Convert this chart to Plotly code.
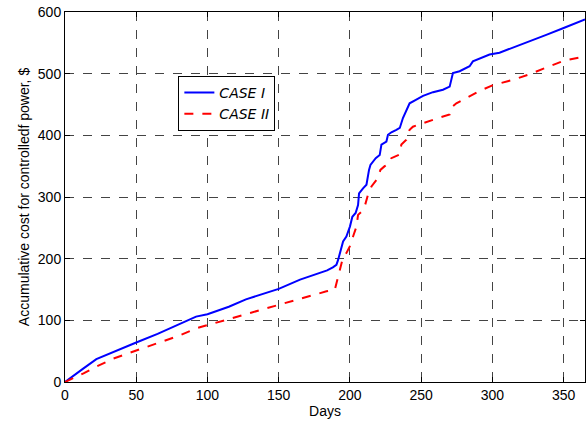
import plotly.graph_objects as go

# Accumulated cost of controlled power over one year (days), two cases
days_case1 = [0, 5, 13, 22, 34, 50, 65, 80, 92, 100, 115, 127, 140, 150, 165, 178, 184, 188,
              190.5, 191.7, 194, 195.2, 197.5, 200, 201.7, 204, 205.7, 206.4, 209.2, 211.6,
              213.4, 214.4, 218.1, 220.9, 222.1, 225.6, 226.7, 229.1, 232.6, 235, 237.2,
              239.6, 241.9, 246.6, 251.3, 258.3, 265.3, 270, 272.3, 277, 284, 286.3, 292.2,
              298, 305, 314.4, 326, 337.8, 350, 361, 365]
cost_case1 = [0, 9, 22, 37, 49, 64, 78, 94, 106, 110, 122, 134, 143, 151, 166, 176, 181, 186,
              190, 198, 217, 228, 236, 252, 268, 274, 287, 306, 314, 320,
              344, 352, 363, 368, 385, 390, 401, 405, 409, 412, 428,
              439, 452, 458, 464, 470, 474, 479, 501, 504, 512, 520, 525,
              531, 534, 542, 552, 563, 574, 585, 588]

days_case2 = [0, 5, 13, 22, 34, 50, 65, 80, 92, 100, 115, 130, 150, 165, 183.5, 189.3, 190.5,
              192.8, 194.7, 197.5, 199.9, 202.2, 204.6, 205.7, 208, 210.4, 212.7, 215.1,
              217.4, 219.7, 221.4, 224.4, 227.9, 229.1, 234.9, 236.1, 239.6, 241.9, 244.2,
              251.3, 260.6, 270, 271.2, 274.7, 279.3, 284, 291, 300, 314.4, 326, 337.8,
              350, 361, 365]
cost_case2 = [0, 5, 14, 25, 38, 51, 63, 75, 87, 92, 102, 112, 125, 134, 147, 149, 160,
              182, 198, 209, 220, 236, 252, 271, 276, 285, 304, 317,
              325, 331, 344, 350, 355, 363, 369, 385, 393, 409, 414,
              420, 427, 434, 445, 452, 458, 464, 472, 481, 490, 499, 510,
              521, 526, 528]

x_ticks = [0, 50, 100, 150, 200, 250, 300, 350]
y_ticks = [0, 100, 200, 300, 400, 500, 600]

fig = go.Figure()
fig.add_trace(go.Scatter(x=days_case1, y=cost_case1, mode="lines", name="CASE I",
                         line=dict(color="#0000ff", width=2)))
fig.add_trace(go.Scatter(x=days_case2, y=cost_case2, mode="lines", name="CASE II",
                         line=dict(color="#ff0000", width=2, dash="dash")))

axis_common = dict(
    showline=True, linecolor="black", linewidth=1, mirror="ticks",
    ticks="inside", ticklen=5, tickcolor="black",
    showgrid=True, gridcolor="#444444", griddash="dash", gridwidth=1,
    zeroline=False,
    tickfont=dict(family="Liberation Sans, Arial", size=14, color="black"),
)

fig.update_xaxes(range=[0, 365], tickvals=x_ticks,
                 title=dict(text="Days", font=dict(family="Liberation Sans, Arial", size=14, color="black"),
                            standoff=2),
                 **axis_common)
fig.update_yaxes(range=[0, 600], tickvals=y_ticks,
                 title=dict(text="Accumulative cost for controlledf power, $",
                            font=dict(family="Liberation Sans, Arial", size=14, color="black"),
                            standoff=4),
                 **axis_common)

fig.update_layout(
    width=587, height=422,
    margin=dict(l=65, r=2, t=12, b=40),
    paper_bgcolor="white", plot_bgcolor="white",
    showlegend=True,
    legend=dict(x=0.218, y=0.827, xanchor="left", yanchor="top",
                bgcolor="white", bordercolor="black", borderwidth=1,
                font=dict(family="DejaVu Sans", size=14, color="black", style="italic"),
                tracegroupgap=0, itemwidth=30),
)

fig.write_html("out.html")
